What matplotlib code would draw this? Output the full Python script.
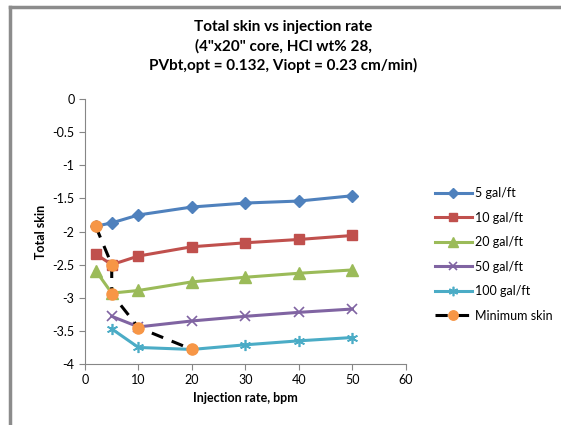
import matplotlib.pyplot as plt
from matplotlib.lines import Line2D

plt.rcParams['font.family'] = ['Lato', 'DejaVu Sans']

rates = [2, 5, 10, 20, 30, 40, 50]
rates_short = [5, 10, 20, 30, 40, 50]
skin_5 = [-1.92, -1.87, -1.75, -1.63, -1.57, -1.54, -1.46]
skin_10 = [-2.34, -2.50, -2.37, -2.23, -2.17, -2.12, -2.06]
skin_20 = [-2.59, -2.93, -2.89, -2.76, -2.69, -2.63, -2.58]
skin_50 = [-3.28, -3.44, -3.35, -3.28, -3.22, -3.17]
skin_100 = [-3.47, -3.75, -3.78, -3.71, -3.65, -3.60]
min_rates = [2, 5, 5, 10, 20]
min_skin = [-1.92, -2.50, -2.94, -3.45, -3.78]

fig = plt.figure(figsize=(5.61, 4.25), dpi=100)
ax = fig.add_axes([0.1515, 0.1435, 0.572, 0.6235])

ax.plot(rates, skin_5, color='#4F81BD', lw=2.2, marker='D', ms=6, label='5 gal/ft')
ax.plot(rates, skin_10, color='#C0504D', lw=2.2, marker='s', ms=7, label='10 gal/ft')
ax.plot(rates, skin_20, color='#9BBB59', lw=2.2, marker='^', ms=8, label='20 gal/ft')
ax.plot(rates_short, skin_50, color='#8064A2', lw=2.2, marker='x', ms=7, mew=1.2, label='50 gal/ft')
ax.plot(rates_short, skin_100, color='#4BACC6', lw=2.2, marker=(6, 2, 0), ms=8, mew=1.2, label='100 gal/ft')
ax.plot(min_rates, min_skin, color='black', lw=2.2, ls=(0, (4, 3)), marker='o', ms=8,
        mfc='#F79646', mec='#F79646', label='Minimum skin')

ax.set_xlim(0, 60)
ax.set_ylim(-4, 0)
ax.set_xticks(range(0, 61, 10))
ax.set_yticks([0, -0.5, -1, -1.5, -2, -2.5, -3, -3.5, -4])
ax.set_yticklabels(['0', '-0.5', '-1', '-1.5', '-2', '-2.5', '-3', '-3.5', '-4'])
for s in ['top', 'right']:
    ax.spines[s].set_visible(False)
for s in ['left', 'bottom']:
    ax.spines[s].set_color('#868686')
ax.tick_params(colors='#868686', labelcolor='black', labelsize=9, length=4)
ax.set_xlabel('Injection rate, bpm', fontsize=9, fontweight='bold')
ax.set_ylabel('Total skin', fontsize=9, fontweight='bold')

fig.text(0.505, 0.952, 'Total skin vs injection rate\n(4"x20" core, HCl wt% 28,\nPVbt,opt = 0.132, Viopt = 0.23 cm/min)',
         ha='center', va='top', fontsize=11, fontweight='bold', linespacing=1.4)

ax.legend(loc='upper left', bbox_to_anchor=(0.756, 0.586), bbox_transform=fig.transFigure,
          frameon=False, fontsize=9, labelspacing=1.0, handlelength=2.9, handletextpad=0.3,
          markerscale=0.85)

# chart border (only top and left visible)
fig.add_artist(Line2D([0.018, 0.018], [0, 0.983], color='#8c8c8c', lw=2.5))
fig.add_artist(Line2D([0.018, 1], [0.983, 0.983], color='#8c8c8c', lw=2.5))

fig.savefig('out.png', dpi=100)
